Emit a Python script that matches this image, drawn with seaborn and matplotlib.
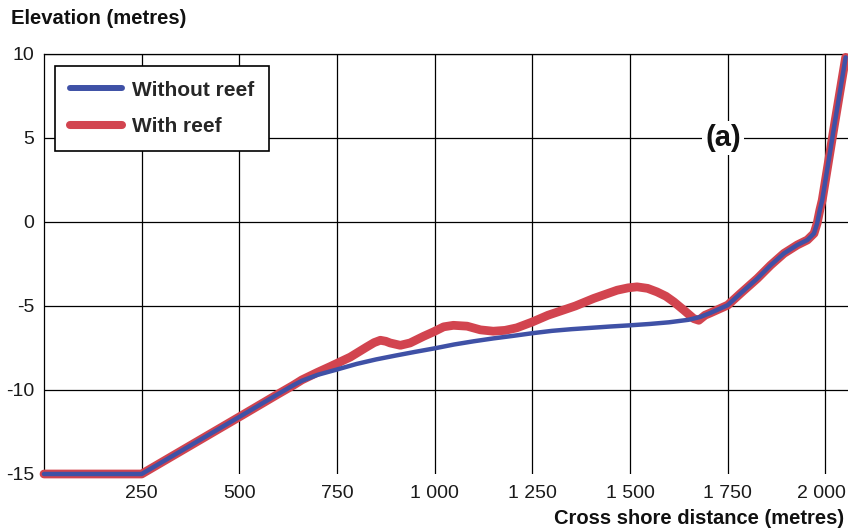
import matplotlib
matplotlib.use("Agg")
import matplotlib.pyplot as plt
import matplotlib.transforms as mtransforms
import seaborn as sns
import pandas as pd
from matplotlib.lines import Line2D

# ---- data ----
x_without = [0, 250, 400, 500, 600, 638, 660, 700, 750, 800, 850, 900, 950, 1000, 1050,
             1100, 1150, 1200, 1250, 1300, 1350, 1400, 1450, 1500, 1550, 1600, 1650, 1680,
             1706, 1750, 1783, 1826, 1860, 1894, 1928, 1954, 1971, 1979, 1986, 1992, 2022,
             2052]
y_without = [-15, -15, -12.96, -11.6, -10.23, -9.72, -9.45, -9.1, -8.78, -8.45, -8.18, -7.95,
             -7.73, -7.52, -7.29, -7.1, -6.93, -6.78, -6.62, -6.48, -6.38, -6.3, -6.22, -6.15,
             -6.07, -5.97, -5.82, -5.65, -5.41, -4.95, -4.25, -3.36, -2.57, -1.87, -1.37,
             -1.07, -0.68, -0.08, 0.72, 1.3, 5.6, 9.8]

x_with = [0, 250, 400, 500, 600, 638, 660, 700, 733, 784, 826, 845, 861, 875, 886, 912, 937,
          972, 997, 1023, 1048, 1083, 1117, 1150, 1180, 1210, 1250, 1290, 1322, 1360, 1407,
          1467, 1495, 1518, 1545, 1569, 1592, 1612, 1638, 1663, 1676, 1692, 1706, 1750, 1783,
          1826, 1860, 1894, 1928, 1954, 1971, 1979, 1986, 1992, 2022, 2052]
y_with = [-15, -15, -12.96, -11.6, -10.23, -9.72, -9.4, -8.95, -8.6, -8.04, -7.44, -7.18,
          -7.04, -7.1, -7.2, -7.34, -7.2, -6.8, -6.54, -6.24, -6.15, -6.2, -6.42, -6.5, -6.45,
          -6.3, -5.95, -5.55, -5.3, -5.0, -4.55, -4.06, -3.92, -3.86, -3.95, -4.16, -4.42,
          -4.75, -5.25, -5.75, -5.85, -5.55, -5.41, -4.95, -4.25, -3.36, -2.57, -1.87, -1.37,
          -1.07, -0.68, -0.08, 0.72, 1.3, 5.6, 9.8]

series_labels = ["Without reef", "With reef"]
x_ticks = [250, 500, 750, 1000, 1250, 1500, 1750, 2000]
x_tick_labels = ["250", "500", "750", "1 000", "1 250", "1 500", "1 750", "2 000"]
y_ticks = [-15, -10, -5, 0, 5, 10]
y_tick_labels = ["-15", "-10", "-5", "0", "5", "10"]

BLUE = "#3f51a6"
RED = "#d2444f"
FONT = ["Liberation Sans", "DejaVu Sans"]

sns.set_theme(style="white")
plt.rcParams["font.family"] = FONT
plt.rcParams["axes.unicode_minus"] = False

W, H = 848, 531
fig = plt.figure(figsize=(W / 100, H / 100), dpi=100)
ax = fig.add_axes([44 / W, 1 - 474 / H, (848 - 44) / W, (474 - 54) / H])

df_with = pd.DataFrame({"x": x_with, "y": y_with})
df_without = pd.DataFrame({"x": x_without, "y": y_without})

sns.lineplot(data=df_with, x="x", y="y", ax=ax, color=RED, linewidth=6.3,
             sort=False, estimator=None, solid_capstyle="round", solid_joinstyle="round",
             clip_on=False, zorder=3)
sns.lineplot(data=df_without, x="x", y="y", ax=ax, color=BLUE, linewidth=3.2,
             sort=False, estimator=None, solid_capstyle="round", solid_joinstyle="round",
             clip_on=False, zorder=4)

ax.set_xlim(0, 2058)
ax.set_ylim(-15, 10)
ax.set_xticks(x_ticks)
ax.set_xticklabels(x_tick_labels)
ax.set_yticks(y_ticks)
ax.set_yticklabels(y_tick_labels)
ax.set_xlabel("")
ax.set_ylabel("")
ax.tick_params(axis="both", length=0, colors="#1a1a1a", labelsize=14)
ax.tick_params(axis="x", pad=8)
ax.tick_params(axis="y", pad=7)

# nudge the last x label slightly left so it stays inside the figure
last = ax.get_xticklabels()[-1]
last.set_transform(last.get_transform() +
                   mtransforms.ScaledTranslation(-4 / 100, 0, fig.dpi_scale_trans))

ax.grid(True, color="black", linewidth=0.9)
ax.set_axisbelow(True)
for gl, v in zip(ax.yaxis.get_gridlines(), y_ticks):
    if v == -15:
        gl.set_visible(False)

for side in ["right", "bottom"]:
    ax.spines[side].set_visible(False)
for side in ["left", "top"]:
    ax.spines[side].set_visible(True)
    ax.spines[side].set_color("black")
    ax.spines[side].set_linewidth(0.9)

handles = [Line2D([], [], color=BLUE, linewidth=4.3),
           Line2D([], [], color=RED, linewidth=5.8)]
leg = ax.legend(handles, series_labels, loc="upper left",
                bbox_to_anchor=(55 / W, 1 - 66 / H), bbox_transform=fig.transFigure,
                borderaxespad=0, prop={"weight": "bold", "size": 15, "family": FONT},
                handlelength=2.5, handletextpad=0.5, borderpad=0.7, labelspacing=0.85,
                fancybox=False, framealpha=1, edgecolor="black")
leg.get_frame().set_linewidth(1.2)
leg.set_zorder(6)

ax.text(1738, 5, "(a)", fontsize=21, fontweight="bold", ha="center", va="center",
        color="#111111", zorder=5,
        bbox=dict(boxstyle="square,pad=0.1", facecolor="white", edgecolor="none"))

fig.text(11 / W, 1 - 18 / H, "Elevation (metres)", fontsize=14.6, fontweight="bold",
         ha="left", va="center", color="#111111")
fig.text(844 / W, 1 - 519 / H, "Cross shore distance (metres)", fontsize=14.5,
         fontweight="bold", ha="right", va="center", color="#111111")

fig.savefig("out.png", dpi=100)
